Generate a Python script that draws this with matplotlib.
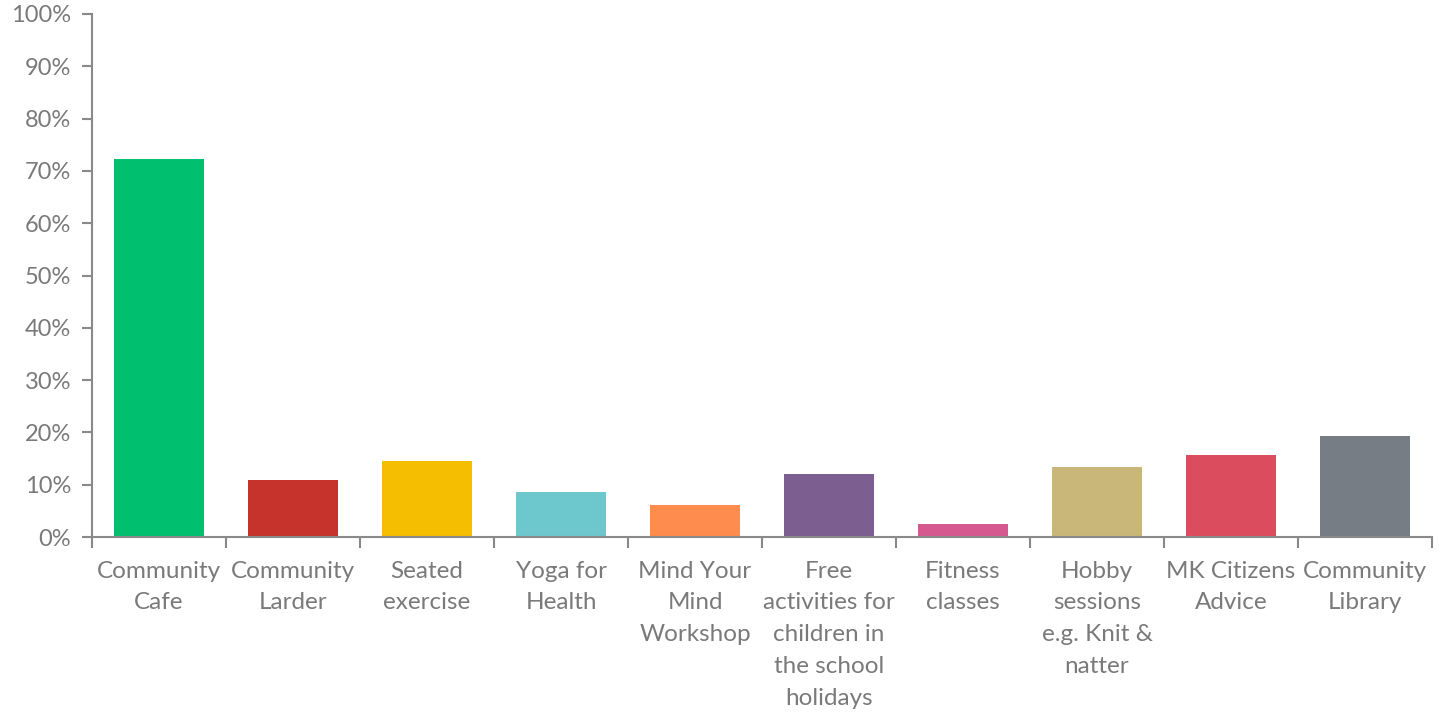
import matplotlib
matplotlib.use("Agg")
import matplotlib.pyplot as plt
from matplotlib.ticker import PercentFormatter

# categories and values (percent)
labels = [
    "Community\nCafe",
    "Community\nLarder",
    "Seated\nexercise",
    "Yoga for\nHealth",
    "Mind Your\nMind\nWorkshop",
    "Free\nactivities for\nchildren in\nthe school\nholidays",
    "Fitness\nclasses",
    "Hobby\nsessions\ne.g. Knit &\nnatter",
    "MK Citizens\nAdvice",
    "Community\nLibrary",
]
values = [72.3, 10.9, 14.5, 8.6, 6.1, 12.0, 2.5, 13.4, 15.7, 19.3]
colors = ["#00BF6F", "#C5332C", "#F6BE00", "#6CC8CD", "#FF8C4F",
          "#7D5E91", "#D5588E", "#C9B77A", "#DB4C5E", "#767D85"]

TEXT = "#7a7a7a"
AXIS = "#898989"

plt.rcParams['font.family'] = ['Lato', 'DejaVu Sans']

fig = plt.figure(figsize=(14.41, 7.14), dpi=100)
ax = fig.add_axes([92 / 1441, 177 / 714, 1340 / 1441, 523 / 714])

x = list(range(len(labels)))
ax.bar(x, values, width=0.67, color=colors)

ax.set_xlim(-0.5, len(labels) - 0.5)
ax.set_ylim(0, 100)
ax.set_yticks(range(0, 101, 10))
ax.yaxis.set_major_formatter(PercentFormatter(decimals=0))

# category labels centered, tick marks at boundaries
ax.set_xticks(x)
ax.set_xticklabels(labels, linespacing=1.64)
ax.set_xticks([i - 0.5 for i in range(len(labels) + 1)], minor=True)
ax.tick_params(axis='x', which='major', length=0, pad=17, labelsize=17.5, labelcolor=TEXT)
ax.tick_params(axis='x', which='minor', length=8, width=1.5, color=AXIS, direction='out')
ax.tick_params(axis='y', length=7, width=1.5, color=AXIS, pad=8, labelsize=17, labelcolor=TEXT)

for s in ['top', 'right']:
    ax.spines[s].set_visible(False)
for s in ['left', 'bottom']:
    ax.spines[s].set_color(AXIS)
    ax.spines[s].set_linewidth(1.5)

fig.savefig("out.png", dpi=100)
